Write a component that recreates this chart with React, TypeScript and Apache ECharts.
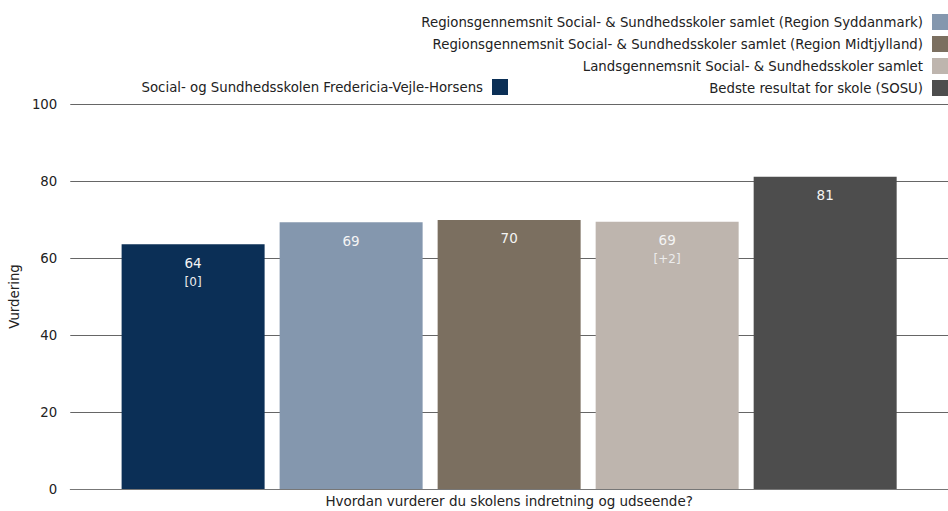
import React, { useEffect, useRef } from "react";
import * as echarts from "echarts";

const categories = ["Hvordan vurderer du skolens indretning og udseende?"];
const seriesNames = [
  "Social- og Sundhedsskolen Fredericia-Vejle-Horsens",
  "Regionsgennemsnit Social- & Sundhedsskoler samlet (Region Syddanmark)",
  "Regionsgennemsnit Social- & Sundhedsskoler samlet (Region Midtjylland)",
  "Landsgennemsnit Social- & Sundhedsskoler samlet",
  "Bedste resultat for skole (SOSU)",
];
const values = [63.6, 69.3, 69.9, 69.4, 81.1];
const changes: (string | null)[] = ["0", null, null, "+2", null];
const colors = ["#0b2f56", "#8497ae", "#7b6f60", "#beb5ae", "#4d4d4d"];
const yTicks = [0, 20, 40, 60, 80, 100];

const FONT = "DejaVu Sans";
const FS = 13.3;

export default function App() {
  const ref = useRef<HTMLDivElement>(null);
  useEffect(() => {
    if (!ref.current) return;
    const chart = echarts.init(ref.current, undefined, { renderer: "svg" });
    const series = seriesNames.map((name, i) => ({
      name,
      type: "bar",
      data: [values[i]],
      barWidth: 143,
      barGap: "10.5%",
      itemStyle: { color: colors[i] },
      label: {
        show: true,
        position: "insideTop",
        distance: 9,
        formatter: (p: any) => {
          const v = Math.round(p.value);
          return changes[i] !== null ? `{a|${v}}\n{b|[${changes[i]}]}` : `{a|${v}}`;
        },
        rich: {
          a: { fontFamily: FONT, fontSize: 13.5, color: "#f4f4f4", lineHeight: 19, align: "center" },
          b: { fontFamily: FONT, fontSize: 12, color: "#ececec", lineHeight: 19, align: "center" },
        },
      },
    }));
    chart.setOption({
      animation: false,
      textStyle: { fontFamily: FONT },
      legend: [
        {
          data: seriesNames.slice(1),
          orient: "vertical",
          right: -5,
          top: 9,
          align: "right",
          itemWidth: 16,
          itemHeight: 16,
          itemGap: 6,
          icon: "rect",
          textStyle: { fontFamily: FONT, fontSize: FS, color: "#222", padding: [0, 4, 0, 0] },
        },
        {
          data: [seriesNames[0]],
          orient: "vertical",
          right: 435,
          top: 74,
          align: "right",
          itemWidth: 16,
          itemHeight: 16,
          icon: "rect",
          textStyle: { fontFamily: FONT, fontSize: FS, color: "#222", padding: [0, 4, 0, 0] },
        },
      ],
      grid: { left: 65, right: -10, top: 104, bottom: 22 },
      xAxis: {
        type: "category",
        data: categories,
        axisLine: { lineStyle: { color: "#777" } },
        axisTick: { show: false },
        axisLabel: { fontFamily: FONT, fontSize: 13.5, color: "#222", margin: 5 },
      },
      yAxis: {
        type: "value",
        min: yTicks[0],
        max: yTicks[yTicks.length - 1],
        interval: 20,
        name: "Vurdering",
        nameLocation: "middle",
        nameGap: 37,
        nameTextStyle: { fontFamily: FONT, fontSize: FS, color: "#222" },
        axisLine: { show: false },
        axisTick: { show: false },
        axisLabel: { fontFamily: FONT, fontSize: FS, color: "#222", margin: 13 },
        splitLine: { lineStyle: { color: "#666", width: 1 } },
      },
      series,
    });
    return () => chart.dispose();
  }, []);
  return <div ref={ref} style={{ width: 948, height: 511, position: "absolute", left: 0, top: 0 }} />;
}
